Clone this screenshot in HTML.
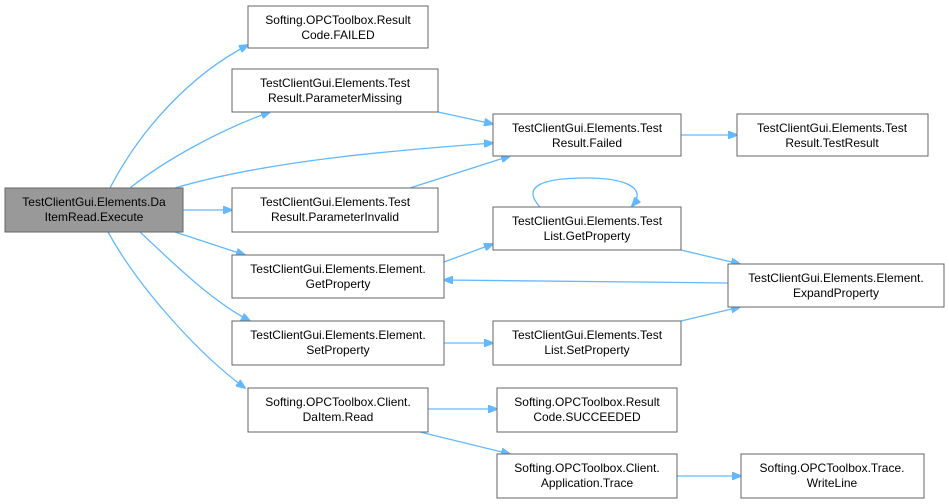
<!DOCTYPE html>
<html><head><meta charset="utf-8"><style>
html,body{margin:0;padding:0;background:#fff;width:949px;height:504px;overflow:hidden}
text{font-family:"Liberation Sans",Arial,sans-serif;font-size:12px;fill:#000;text-anchor:middle}
.n{fill:#fff;stroke:#666;stroke-width:1}
.e{fill:none;stroke:#63b8ff;stroke-width:1.3}
</style></head><body>
<svg width="949" height="504" xmlns="http://www.w3.org/2000/svg">
<defs><marker id="a" markerWidth="10" markerHeight="8" refX="9" refY="4" orient="auto" markerUnits="userSpaceOnUse"><path d="M0,0 L10,4 L0,8 Z" fill="#63b8ff" stroke="#63b8ff"/></marker></defs>
<g marker-end="url(#a)">
<path class="e" d="M110,188 C140,130 190,75 248,45"/>
<path class="e" d="M130,188 C165,160 220,130 270,112"/>
<path class="e" d="M175,188 C270,160 400,150 493,143"/>
<path class="e" d="M183,210 L232,210"/>
<path class="e" d="M175,232 L245,255"/>
<path class="e" d="M140,232 C170,260 210,300 250,321"/>
<path class="e" d="M108,232 C140,290 200,355 245,388"/>
<path class="e" d="M438,112 L493,124"/>
<path class="e" d="M410,188 L510,156"/>
<path class="e" d="M681,135 L737,135"/>
<path class="e" d="M444,262 L493,244"/>
<path class="e" d="M540,207 C520,185 545,178 587,178 C625,178 648,188 632,206"/>
<path class="e" d="M681,250 L740,264"/>
<path class="e" d="M728,283 L444,280"/>
<path class="e" d="M444,343 L493,343"/>
<path class="e" d="M681,321 L740,307"/>
<path class="e" d="M428,409 L497,409"/>
<path class="e" d="M420,432 L510,454"/>
<path class="e" d="M677,476 L741,476"/>
</g>
<rect x="5" y="188" width="178" height="44" fill="#999" stroke="#666"/>
<text x="94" y="206">TestClientGui.Elements.Da</text><text x="94" y="221">ItemRead.Execute</text>
<rect class="n" x="248" y="6" width="180" height="42"/><text x="338" y="24">Softing.OPCToolbox.Result</text><text x="338" y="39">Code.FAILED</text>
<rect class="n" x="232" y="69" width="206" height="43"/><text x="335" y="87">TestClientGui.Elements.Test</text><text x="335" y="102">Result.ParameterMissing</text>
<rect class="n" x="232" y="188" width="206" height="44"/><text x="335" y="206">TestClientGui.Elements.Test</text><text x="335" y="221">Result.ParameterInvalid</text>
<rect class="n" x="232" y="255" width="212" height="43"/><text x="338" y="273">TestClientGui.Elements.Element.</text><text x="338" y="288">GetProperty</text>
<rect class="n" x="232" y="321" width="212" height="44"/><text x="338" y="339">TestClientGui.Elements.Element.</text><text x="338" y="354">SetProperty</text>
<rect class="n" x="248" y="388" width="180" height="44"/><text x="338" y="406">Softing.OPCToolbox.Client.</text><text x="338" y="421">DaItem.Read</text>
<rect class="n" x="493" y="114" width="188" height="42"/><text x="587" y="132">TestClientGui.Elements.Test</text><text x="587" y="147">Result.Failed</text>
<rect class="n" x="737" y="114" width="191" height="42"/><text x="832" y="132">TestClientGui.Elements.Test</text><text x="832" y="147">Result.TestResult</text>
<rect class="n" x="493" y="207" width="188" height="43"/><text x="587" y="225">TestClientGui.Elements.Test</text><text x="587" y="240">List.GetProperty</text>
<rect class="n" x="728" y="264" width="216" height="43"/><text x="836" y="282">TestClientGui.Elements.Element.</text><text x="836" y="297">ExpandProperty</text>
<rect class="n" x="493" y="321" width="188" height="44"/><text x="587" y="339">TestClientGui.Elements.Test</text><text x="587" y="354">List.SetProperty</text>
<rect class="n" x="497" y="388" width="180" height="44"/><text x="587" y="406">Softing.OPCToolbox.Result</text><text x="587" y="421">Code.SUCCEEDED</text>
<rect class="n" x="497" y="454" width="180" height="44"/><text x="587" y="472">Softing.OPCToolbox.Client.</text><text x="587" y="487">Application.Trace</text>
<rect class="n" x="741" y="454" width="183" height="44"/><text x="832" y="472">Softing.OPCToolbox.Trace.</text><text x="832" y="487">WriteLine</text>
</svg>
</body></html>
